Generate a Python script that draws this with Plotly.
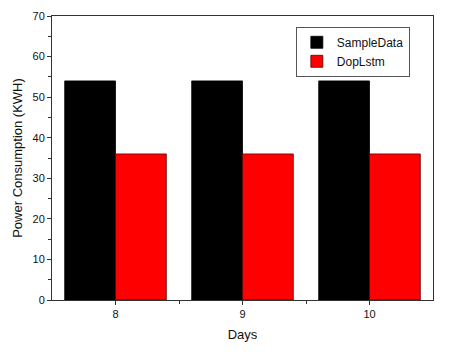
import plotly.graph_objects as go

days = [8, 9, 10]
sample_data = [54, 54, 54]
dop_lstm = [36, 36, 36]
y_ticks = [0, 10, 20, 30, 40, 50, 60, 70]

fig = go.Figure()
fig.add_bar(x=days, y=sample_data, name="SampleData",
            marker=dict(color="#000000", line=dict(color="#000000", width=0.8)))
fig.add_bar(x=days, y=dop_lstm, name="DopLstm",
            marker=dict(color="#ff0000", line=dict(color="#5a0000", width=0.8)))

axis_common = dict(showline=True, linecolor="#333333", linewidth=1, mirror=True,
                   ticks="outside", ticklen=4, tickcolor="#333333", showgrid=False,
                   zeroline=False, automargin=False,
                   tickfont=dict(size=11, color="#111111"))

# page body has an 8px default margin, so the figure is sized to fit the window
fig.update_layout(
    width=448, height=344,
    margin=dict(l=44, r=23, t=8, b=52),
    paper_bgcolor="white", plot_bgcolor="white",
    font=dict(family="Liberation Sans, Arial, sans-serif", size=12, color="#111111"),
    barmode="group", bargap=0.2, bargroupgap=0,
    showlegend=True,
    legend=dict(x=0.64, y=0.962, xanchor="left", yanchor="top",
                bordercolor="#555555", borderwidth=1, bgcolor="white",
                font=dict(size=12), itemwidth=30, tracegroupgap=0),
    xaxis=dict(range=[7.5, 10.5], tickvals=days, ticktext=[str(d) for d in days],
               title=dict(text="Days", font=dict(size=13), standoff=10),
               minor=dict(tickvals=[8.5, 9.5], ticks="outside", ticklen=3, tickcolor="#333333"),
               **axis_common),
    yaxis=dict(range=[0, 70], tickvals=y_ticks,
               title=dict(text="Power Consumption (KWH)", font=dict(size=13), standoff=6),
               minor=dict(dtick=5, ticks="outside", ticklen=3, tickcolor="#333333"),
               **axis_common),
)

fig.write_html("out.html")
